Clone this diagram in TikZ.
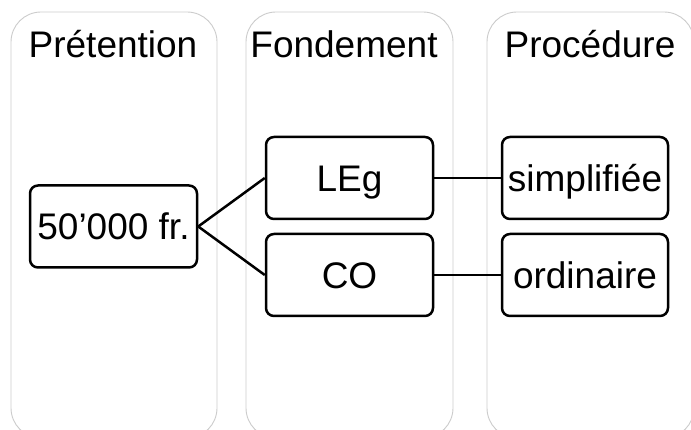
\documentclass[tikz,border=0pt]{standalone}
\usepackage{fontspec}
\setmainfont{Liberation Sans}
\begin{document}
\begin{tikzpicture}[x=1pt,y=-1pt,
  colbox/.style={draw=black!20,line width=0.9pt,fill=white,rounded corners=30pt},
  header/.style={font=\fontsize{37}{44}\selectfont,text height=26.5pt,text depth=0pt,inner sep=0pt},
  itembox/.style={draw=black,line width=2.5pt,rounded corners=8pt,
    font=\fontsize{37}{44}\selectfont,text height=26.5pt,text depth=0pt,inner sep=0pt,
    minimum height=82pt,align=center},
  conn/.style={draw=black,line width=2.5pt}]
\useasboundingbox (0,0) rectangle (691,430);
\clip (0,0) rectangle (691,430);
\fill[white] (0,0) rectangle (691,430);
% columns
\draw[colbox] (11,12) rectangle (217,438);
\draw[colbox] (246,12) rectangle (453,438);
\draw[colbox] (487,12) rectangle (694,438);
% headers
\node[header] (h1) at (113,44) {Prétention};
\node[header] (h2) at (344,44) {Fondement};
\node[header] (h3) at (590,44) {Procédure};
% items
\node[itembox,minimum width=167pt] (p) at (113.5,226.5) {50’000 fr.};
\node[itembox,minimum width=167pt] (leg) at (349.5,178) {LEg};
\node[itembox,minimum width=167pt] (co) at (349.5,275) {CO};
\node[itembox,minimum width=166pt] (simp) at (585,178) {simplifiée};
\node[itembox,minimum width=166pt] (ord) at (585,275) {ordinaire};
% connectors
\draw[conn] (p.east) -- (leg.west);
\draw[conn] (p.east) -- (co.west);
\draw[conn] (leg.east) -- (simp.west);
\draw[conn] (co.east) -- (ord.west);
\end{tikzpicture}
\end{document}
